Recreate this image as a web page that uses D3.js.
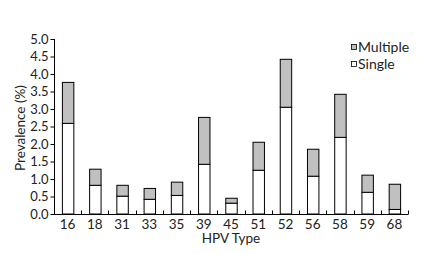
<!DOCTYPE html>
<html>
<head>
<meta charset="utf-8">
<script src="https://cdn.jsdelivr.net/npm/d3@7"></script>
<style>
  body { margin: 0; background: #fff; }
  text { font-family: Lato, "Open Sans", sans-serif; fill: #222; }
</style>
</head>
<body>
<svg id="chart"></svg>
<script>
const types    = ["16", "18", "31", "33", "35", "39", "45", "51", "52", "56", "58", "59", "68"];
const single   = [2.59, 0.82, 0.51, 0.42, 0.53, 1.42, 0.31, 1.25, 3.05, 1.08, 2.19, 0.62, 0.13];
const multiple = [1.17, 0.46, 0.31, 0.31, 0.38, 1.34, 0.14, 0.80, 1.37, 0.77, 1.23, 0.49, 0.72];
const yTicks   = [0, 0.5, 1, 1.5, 2, 2.5, 3, 3.5, 4, 4.5, 5];

const W = 431, H = 254;
const margin = {top: 39, right: 23, bottom: 40, left: 54};

const svg = d3.select("#chart").attr("width", W).attr("height", H);

const x = d3.scaleBand().domain(types)
  .range([margin.left, W - margin.right])
  .paddingInner(0.58).paddingOuter(0.29);
const y = d3.scaleLinear().domain([0, 5]).range([H - margin.bottom, margin.top]);

const rows = types.map((t, i) => ({t: t, s: single[i], m: multiple[i]}));

// bars: single at bottom, multiple stacked on top
const bars = svg.append("g");
bars.selectAll(".single").data(rows).join("rect")
  .attr("x", d => x(d.t) + 0.5)
  .attr("y", d => y(d.s))
  .attr("width", x.bandwidth())
  .attr("height", d => y(0) - y(d.s))
  .attr("fill", "#fff").attr("stroke", "#000").attr("stroke-width", 1);
bars.selectAll(".multi").data(rows).join("rect")
  .attr("x", d => x(d.t) + 0.5)
  .attr("y", d => y(d.s + d.m))
  .attr("width", x.bandwidth())
  .attr("height", d => y(d.s) - y(d.s + d.m))
  .attr("fill", "#c0c0c0").attr("stroke", "#000").attr("stroke-width", 1);

// y axis
const yAxis = svg.append("g")
  .attr("transform", "translate(" + (margin.left + 0.5) + ",0)")
  .call(d3.axisLeft(y).tickValues(yTicks).tickFormat(d3.format(".1f")).tickSize(4).tickPadding(2));
yAxis.select(".domain").attr("d", "M0," + y(5) + "V" + y(0));
yAxis.selectAll("text").style("font-size", "13px");

// x axis, small ticks at category boundaries pointing up
const xAxis = svg.append("g").attr("transform", "translate(0," + (y(0) + 0.5) + ")");
xAxis.append("path")
  .attr("d", "M" + margin.left + ",0H" + (W - margin.right))
  .attr("stroke", "#000").attr("fill", "none");
const edges = d3.range(types.length + 1).map(i => margin.left + i * x.step());
xAxis.selectAll(".tk").data(edges.slice(1)).join("line")
  .attr("x1", d => Math.round(d) + 0.5).attr("x2", d => Math.round(d) + 0.5)
  .attr("y1", 0).attr("y2", -4).attr("stroke", "#000");
xAxis.selectAll(".lbl").data(types).join("text")
  .attr("x", d => x(d) + x.bandwidth() / 2)
  .attr("y", 14)
  .attr("text-anchor", "middle")
  .style("font-size", "13.5px")
  .text(d => d);

// axis titles
svg.append("text")
  .attr("x", (margin.left + W - margin.right) / 2)
  .attr("y", 243)
  .attr("text-anchor", "middle")
  .style("font-size", "13.5px")
  .text("HPV Type");
svg.append("text")
  .attr("transform", "translate(25,128) rotate(-90)")
  .attr("text-anchor", "middle")
  .style("font-size", "13.5px")
  .text("Prevalence (%)");

// legend
const legend = [{name: "Multiple", fill: "#c0c0c0", y: 47}, {name: "Single", fill: "#fff", y: 64}];
const lg = svg.append("g").selectAll("g").data(legend).join("g");
lg.append("rect")
  .attr("x", 351.5).attr("y", d => d.y - 2.5)
  .attr("width", 5).attr("height", 5)
  .attr("fill", d => d.fill).attr("stroke", "#000").attr("stroke-width", 0.8);
lg.append("text")
  .attr("x", 358).attr("y", d => d.y + 4.5)
  .style("font-size", "14px")
  .text(d => d.name);
</script>
</body>
</html>
